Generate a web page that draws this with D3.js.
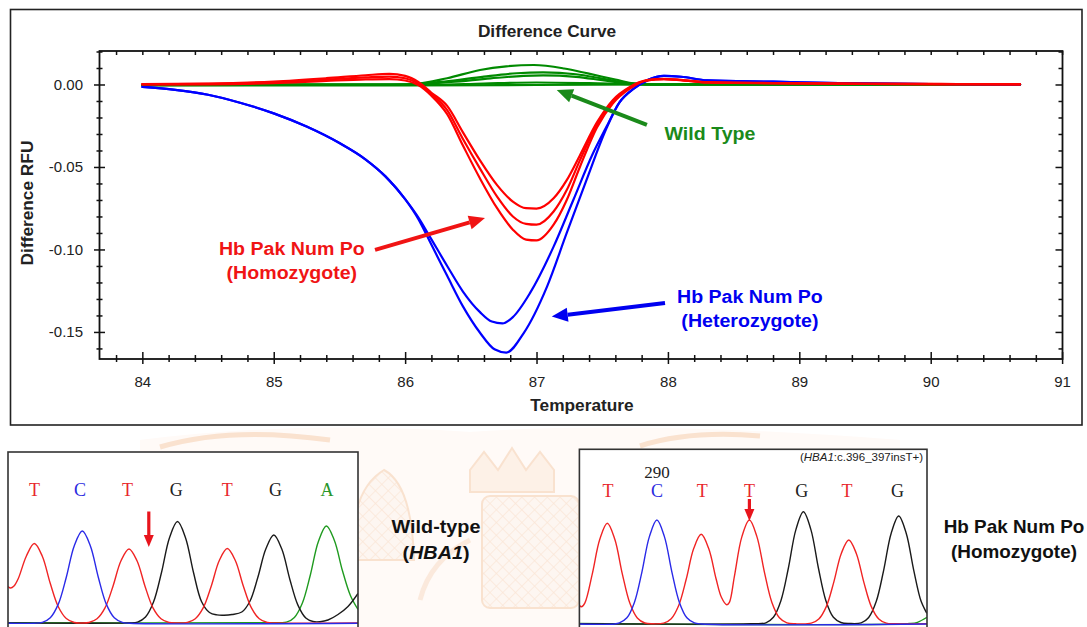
<!DOCTYPE html>
<html>
<head>
<meta charset="utf-8">
<script src="https://cdn.jsdelivr.net/npm/d3@7"></script>
<style>
  html, body { margin: 0; padding: 0; background: #fff; }
  svg { display: block; }
</style>
</head>
<body>
<svg id="fig" width="1087" height="627"></svg>
<script>
// ---------- Difference curve data (temperature °C, difference RFU) ----------
const tempTicks = [84, 85, 86, 87, 88, 89, 90, 91];
const rfuTicks = [0, -0.05, -0.10, -0.15];

// Wild type samples
const wildType1 = [[84,0],[85.9,0],[86.07,0.0003],[86.32,0.0038],[86.57,0.0088],[86.77,0.011],[86.98,0.0118],[87.21,0.0097],[87.39,0.0067],[87.6,0.003],[87.75,0.0005],[87.9,0],[90.68,0]];
const wildType2 = [[84,0],[86.0,0],[86.3,0.0018],[86.6,0.0048],[86.85,0.0068],[87.05,0.0073],[87.3,0.0062],[87.5,0.0036],[87.7,0.0008],[87.9,0],[90.68,0]];
const wildType3 = [[84,0],[86.05,0],[86.35,0.0015],[86.65,0.0037],[86.9,0.0052],[87.05,0.0055],[87.3,0.0046],[87.5,0.0026],[87.7,0.0006],[87.9,0],[90.68,0]];
const wildType4 = [[84,-0.0004],[86.2,-0.0002],[86.6,0.0006],[87.0,0.0012],[87.4,0.0008],[87.8,0.0001],[90.68,0]];
const wildType5 = [[84,-0.0006],[86,-0.0005],[87,-0.0003],[88,0],[90.68,0]];

// Hb Pak Num Po heterozygotes
const heteroStart = [[84,-0.0015],[84.25,-0.0033],[84.5,-0.0062],[84.75,-0.0112],[85,-0.0175],[85.25,-0.0255],[85.5,-0.0355],[85.7,-0.0455],[85.85,-0.0557],[86.0,-0.0695]];
const heteroTail = [[87.63,-0.011],[87.74,-0.0025],[87.85,0.0028],[87.97,0.0052],[88.1,0.0047],[88.3,0.0025],[88.8,0.0017],[89.3,0.0008],[90,0.0003],[90.68,0]];
const hetero1Dip = [[86.1,-0.0805],[86.19,-0.0925],[86.32,-0.1100],[86.44,-0.1255],[86.57,-0.1380],[86.66,-0.1437],[86.74,-0.1448],[86.82,-0.1410],[86.95,-0.1265],[87.13,-0.0983],[87.28,-0.070],[87.43,-0.0417],[87.53,-0.026]];
const hetero2Dip = [[86.1,-0.0815],[86.19,-0.0955],[86.32,-0.1160],[86.44,-0.1345],[86.57,-0.1505],[86.68,-0.1605],[86.77,-0.1625],[86.9,-0.151],[87.08,-0.1225],[87.23,-0.090],[87.38,-0.058],[87.53,-0.027]];

// Hb Pak Num Po homozygotes
const homo1 = [[84,0.0003],[84.5,0.0006],[85,0.0018],[85.4,0.0038],[85.7,0.0056],[85.88,0.0064],[86.0,0.0052],[86.1,0.0015],[86.2,-0.005],[86.32,-0.013],[86.44,-0.029],[86.57,-0.046],[86.7,-0.061],[86.82,-0.071],[86.92,-0.075],[87.0,-0.0752],[87.13,-0.069],[87.23,-0.058],[87.33,-0.043],[87.46,-0.023],[87.58,-0.0095],[87.71,-0.0015],[87.84,0.0026],[87.97,0.0034],[88.1,0.0028],[88.3,0.0014],[88.8,0.0009],[89.5,0.0005],[90.2,0.0003],[90.68,0.0002]];
const homo2 = [[84,0.0001],[84.5,0.0004],[85,0.0013],[85.4,0.003],[85.7,0.0043],[85.88,0.0048],[86.0,0.0038],[86.1,0.0006],[86.2,-0.0058],[86.32,-0.0155],[86.44,-0.033],[86.57,-0.051],[86.7,-0.068],[86.82,-0.08],[86.92,-0.0845],[87.0,-0.085],[87.13,-0.077],[87.23,-0.064],[87.33,-0.046],[87.46,-0.024],[87.58,-0.0105],[87.71,-0.002],[87.84,0.0025],[87.97,0.0033],[88.1,0.0027],[88.3,0.0013],[88.8,0.0008],[89.5,0.0004],[90.2,0.0002],[90.68,0.0001]];
const homo3 = [[84,0],[84.5,0.0001],[85,0.0008],[85.4,0.0022],[85.7,0.0031],[85.88,0.0033],[86.0,0.0024],[86.1,-0.0004],[86.2,-0.0068],[86.32,-0.018],[86.44,-0.037],[86.57,-0.057],[86.7,-0.075],[86.82,-0.088],[86.92,-0.094],[87.0,-0.0945],[87.13,-0.085],[87.23,-0.07],[87.33,-0.05],[87.46,-0.026],[87.58,-0.0115],[87.71,-0.0025],[87.84,0.0024],[87.97,0.0032],[88.1,0.0026],[88.3,0.0012],[88.8,0.0007],[89.5,0.0003],[90.2,0.0001],[90.68,0]];

// ---------- Sequencing traces (scan position, signal) ----------
const wtCalls = ["T","C","T","G","T","G","A"];
const wtCallPos = [26.4, 71.9, 119.4, 168.3, 219.3, 267.5, 319.1];
const wtRed = [[0,37],[2.5,35.5],[6,37.5],[10.3,45],[18.3,67.3],[26.3,80],[34.3,67.3],[42.3,40],[50.3,16.8],[58.3,5],[66.3,1],[73,0.5],[81,1],[89,4.7],[97,15.6],[105,37.3],[113,62.7],[121,74.5],[129,62.7],[137,37.3],[145,15.6],[153,4.7],[161,1],[170,0.5],[179.3,1],[187.3,4.7],[195.3,15.8],[203.3,37.5],[211.3,63],[219.3,75],[227.3,63],[235.3,37.5],[243.3,15.8],[251.3,4.7],[259.3,1],[268,0.5],[350,0.5]];
const wtBlue = [[0,0.3],[26,0.3],[34.3,1.2],[42.3,5.8],[50.3,19.4],[58.3,46.3],[66.3,77.8],[74.3,92.5],[82.3,77.8],[90.3,46.3],[98.3,19.4],[106.3,5.8],[114.3,1.2],[122,0.3],[350,0.3]];
const wtBlack = [[0,0.6],[120,0.6],[129.5,1.3],[137.5,6.4],[145.5,21.4],[153.5,51],[161.5,85.8],[169.5,102],[177.5,85.8],[185.5,51],[193.5,22],[201.5,11],[209,8.6],[216,8.3],[224,9],[233.8,11.5],[241.8,22],[249.8,46],[257.8,74.4],[265.8,88.5],[273.8,74.4],[281.8,44.3],[289.8,18.6],[297.8,5.5],[305,2],[312,1.8],[320,3.5],[330,9],[340,17],[350,30]];
const wtGreen = [[0,0.8],[270,0.8],[278.4,1.3],[286.4,6.1],[294.4,20.5],[302.4,48.8],[310.4,82],[318.4,97.5],[326.4,83],[334.4,53],[342.4,28],[350,14]];
const wtMarkPos = 140.8;

const mutCalls = ["T","C","T","T","G","T","G"];
const mutCallPos = [28.6, 77.5, 122.8, 170, 222.3, 267.6, 318.2];
const mutRed = [[0,19],[2,17.5],[5.4,21.2],[12.9,50.5],[20.4,85],[27.9,101],[35.4,85],[42.9,50.5],[50.4,21.2],[57.9,6.3],[65.4,1.3],[73,0.5],[84.3,1.2],[91.8,5.6],[99.3,18.9],[106.8,45],[114.3,75.7],[121.8,90],[129.3,75.7],[136.8,45],[142,27],[147.3,19.5],[150,22],[155,48],[162.5,87.7],[170,104.3],[177.5,87.7],[185,52.2],[192.5,21.9],[200,6.5],[207.5,1.4],[216,0.5],[231.9,1.1],[239.4,5.3],[246.9,17.7],[254.4,42.2],[261.9,70.9],[269.4,84.3],[276.9,70.9],[284.4,42.2],[291.9,17.7],[299.4,5.3],[306.9,1.1],[315,0.5],[347.6,0.5]];
const mutBlue = [[0,0.3],[35,0.3],[40,1.4],[47.5,6.5],[55,21.9],[62.5,52.2],[70,87.7],[77.5,104.3],[85,87.7],[92.5,52.2],[100,21.9],[107.5,6.5],[115,1.4],[122,0.3],[347.6,0.3]];
const mutBlack = [[0,0.6],[172,0.6],[186.5,1.5],[194,7],[201.5,23.6],[209,56.3],[216.5,94.7],[224,112.6],[231.5,94.7],[239,56.3],[246.5,23.6],[254,7],[261.5,1.8],[270,0.8],[281.8,1.4],[289.3,6.8],[296.8,22.7],[304.3,54.2],[311.8,91.1],[319.3,108.3],[326.8,91.1],[334.3,54.2],[341.8,22.7],[347.6,11]];
const mutGreen = [[0,0.8],[330,0.8],[338,2],[347.6,7]];
const mutMarkPos = 170;

// ---------- drawing ----------
const svg = d3.select("#fig");
const SANS = "'Liberation Sans', Arial, Helvetica, sans-serif";
const SERIF = "'Liberation Serif', 'Times New Roman', serif";
const C_RED = "#ff0000", C_BLUE = "#0000ff", C_GREEN = "#008a00";

function label(g, txt, px, py, opt) {
  const t = g.append("text")
    .attr("transform", `translate(${px},${py}) scale(${opt.sx || 1},1)`)
    .attr("text-anchor", opt.anchor || "middle")
    .attr("font-family", opt.family || SANS)
    .attr("font-size", opt.size)
    .attr("font-weight", opt.weight || "normal")
    .attr("fill", opt.fill || "#222");
  if (Array.isArray(txt)) {
    txt.forEach(p => t.append("tspan").attr("font-style", p.italic ? "italic" : null).text(p.t));
  } else t.text(txt);
  return t;
}

// faint emblem watermark in the page background
const defs = svg.append("defs");
const net = defs.append("pattern").attr("id", "net").attr("width", 9).attr("height", 9)
  .attr("patternUnits", "userSpaceOnUse").attr("patternTransform", "rotate(45)");
net.append("rect").attr("width", 9).attr("height", 9).attr("fill", "#fdf1e8");
net.append("path").attr("d", "M0,0H9M0,0V9").attr("stroke", "#f8d6bd").attr("stroke-width", 1.4);
const wm = svg.append("g").attr("opacity", 0.6);
wm.append("path").attr("d", "M140,440 Q300,420 470,432 Q640,420 900,440 L900,627 L140,627 Z").attr("fill", "#fff7f2");
wm.append("rect").attr("x", 482).attr("y", 496).attr("width", 97).attr("height", 112).attr("rx", 8)
  .attr("fill", "url(#net)").attr("stroke", "#f6cfb0").attr("stroke-width", 2);
wm.append("path").attr("d", "M352,560 Q350,490 384,470 Q412,485 414,560 Z")
  .attr("fill", "url(#net)").attr("stroke", "#f6cfb0").attr("stroke-width", 2);
wm.append("path").attr("d", "M470,492 L470,470 L484,452 L498,470 L512,448 L526,470 L540,452 L554,470 L554,492 Z")
  .attr("fill", "#fde8d8").attr("stroke", "#f6cfb0").attr("stroke-width", 2);
wm.append("path").attr("d", "M420,600 Q430,560 470,540").attr("fill", "none").attr("stroke", "#f9dcc6").attr("stroke-width", 5);
wm.append("path").attr("d", "M160,447 Q230,426 330,440").attr("fill", "none").attr("stroke", "#f7cfb0").attr("stroke-width", 5);
wm.append("path").attr("d", "M640,446 Q690,430 760,436").attr("fill", "none").attr("stroke", "#f7cfb0").attr("stroke-width", 5);

// chart frame
svg.append("rect").attr("x", 10.5).attr("y", 9.5).attr("width", 1071.5).attr("height", 415.5)
  .attr("fill", "#fff").attr("stroke", "#222").attr("stroke-width", 1.6);

const P = { left: 99.5, right: 1062.5, top: 51, bottom: 359 };
const x = d3.scaleLinear().domain([83.674, 91.003]).range([P.left, P.right]);
const y = d3.scaleLinear().domain([-0.1664, 0.0203]).range([P.bottom, P.top]);

const minorT = d3.range(83.8, 91.001, 0.2).filter(v => Math.abs(v - Math.round(v)) > 0.05);
const allT = d3.range(83.8, 91.001, 0.2);
const minorR = d3.range(0.02, -0.1665, -0.01).filter(v => Math.abs(v * 20 - Math.round(v * 20)) > 0.05);

const axes = svg.append("g").attr("font-family", SANS);
const tickFmt = d => d.toFixed(2);

// bottom axis: major ticks with labels, ticks crossing the axis line
const gx = axes.append("g").attr("transform", `translate(0,${P.bottom})`)
  .call(d3.axisBottom(x).tickValues(tempTicks).tickSizeInner(5).tickSizeOuter(0).tickPadding(12).tickFormat(d3.format("d")));
gx.selectAll(".tick line").attr("y1", -7).attr("y2", 5);
const gxm = axes.append("g").attr("transform", `translate(0,${P.bottom})`)
  .call(d3.axisBottom(x).tickValues(minorT).tickSizeInner(3).tickSizeOuter(0).tickFormat(""));
gxm.selectAll(".tick line").attr("y1", -4);

// top axis: inward ticks
axes.append("g").attr("transform", `translate(0,${P.top})`)
  .call(d3.axisTop(x).tickValues(allT).tickSizeInner(-4).tickSizeOuter(0).tickFormat(""));

// left axis: major ticks with labels, crossing ticks
const gy = axes.append("g").attr("transform", `translate(${P.left},0)`)
  .call(d3.axisLeft(y).tickValues(rfuTicks).tickSizeInner(5.5).tickSizeOuter(0).tickPadding(11).tickFormat(tickFmt));
gy.selectAll(".tick line").attr("x1", 5.5);
const gym = axes.append("g").attr("transform", `translate(${P.left},0)`)
  .call(d3.axisLeft(y).tickValues(minorR).tickSizeInner(3).tickSizeOuter(0).tickFormat(""));
gym.selectAll(".tick line").attr("x1", 3);

// right axis: inward ticks
axes.append("g").attr("transform", `translate(${P.right},0)`)
  .call(d3.axisRight(y).tickValues(rfuTicks).tickSizeInner(-7).tickSizeOuter(0).tickFormat(""));
axes.append("g").attr("transform", `translate(${P.right},0)`)
  .call(d3.axisRight(y).tickValues(minorR).tickSizeInner(-4).tickSizeOuter(0).tickFormat(""));

axes.selectAll(".domain").remove();
axes.selectAll(".tick line").attr("stroke", "#111").attr("stroke-width", 1.5);
axes.selectAll(".tick text").attr("font-size", 15).attr("fill", "#222");

svg.append("rect").attr("x", P.left).attr("y", P.top).attr("width", P.right - P.left).attr("height", P.bottom - P.top)
  .attr("fill", "none").attr("stroke", "#111").attr("stroke-width", 1.8);

// titles
label(svg, "Difference Curve", 547, 37, { size: 16, weight: "bold", sx: 1.08 });
label(svg, "Temperature", 582, 411, { size: 16, weight: "bold", sx: 1.08 });
svg.append("text").attr("transform", "translate(33,203) rotate(-90) scale(1.08,1)")
  .attr("text-anchor", "middle").attr("font-family", SANS).attr("font-size", 16)
  .attr("font-weight", "bold").attr("fill", "#222").text("Difference RFU");

// curves
svg.append("clipPath").attr("id", "plotClip").append("rect")
  .attr("x", P.left).attr("y", P.top).attr("width", P.right - P.left).attr("height", P.bottom - P.top);
const curves = svg.append("g").attr("clip-path", "url(#plotClip)").attr("fill", "none")
  .attr("stroke-width", 2.2).attr("stroke-linejoin", "round").attr("stroke-linecap", "round");
const line = d3.line().x(d => x(d[0])).y(d => y(d[1])).curve(d3.curveMonotoneX);

[wildType5, wildType4, wildType3, wildType2, wildType1].forEach(s =>
  curves.append("path").attr("d", line(s)).attr("stroke", C_GREEN));
[heteroStart.concat(hetero1Dip, heteroTail), heteroStart.concat(hetero2Dip, heteroTail)].forEach(s =>
  curves.append("path").attr("d", line(s)).attr("stroke", C_BLUE));
[homo1, homo2, homo3].forEach(s =>
  curves.append("path").attr("d", line(s)).attr("stroke", C_RED));

// annotation arrows (tail -> tip in data units)
function arrow(g, tail, tip, color, w, headLen, headHalf) {
  const x0 = x(tail[0]), y0 = y(tail[1]), x1 = x(tip[0]), y1 = y(tip[1]);
  const a = Math.atan2(y1 - y0, x1 - x0);
  const bx = x1 - headLen * Math.cos(a), by = y1 - headLen * Math.sin(a);
  g.append("line").attr("x1", x0).attr("y1", y0).attr("x2", bx).attr("y2", by)
    .attr("stroke", color).attr("stroke-width", w);
  const px = -Math.sin(a) * headHalf, py = Math.cos(a) * headHalf;
  g.append("path").attr("d", `M${x1},${y1}L${bx + px},${by + py}L${bx - px},${by - py}Z`).attr("fill", color);
}
const ann = svg.append("g");
arrow(ann, [87.84, -0.0245], [87.154, -0.0033], "#1a8a1a", 4, 16, 7);
arrow(ann, [85.771, -0.1003], [86.608, -0.0809], "#f01414", 4, 16, 7);
arrow(ann, [87.978, -0.1324], [87.116, -0.1407], "#0000f0", 4, 16, 7);

label(ann, "Wild Type", x(88.32), y(-0.0336), { size: 17.5, weight: "bold", fill: "#1a8a1a", sx: 1.12 });
label(ann, "Hb Pak Num Po", x(85.138), y(-0.1033), { size: 17.5, weight: "bold", fill: "#f01414", sx: 1.12 });
label(ann, "(Homozygote)", x(85.138), y(-0.1178), { size: 17.5, weight: "bold", fill: "#f01414", sx: 1.12 });
label(ann, "Hb Pak Num Po", x(88.624), y(-0.1324), { size: 17.5, weight: "bold", fill: "#0000f0", sx: 1.12 });
label(ann, "(Heterozygote)", x(88.624), y(-0.1469), { size: 17.5, weight: "bold", fill: "#0000f0", sx: 1.12 });

// ---------- chromatogram panels ----------
function panel(cfg) {
  const g = svg.append("g");
  const xs = d3.scaleLinear().domain([0, cfg.span]).range([cfg.x0, cfg.x1]);
  const ys = d3.scaleLinear().domain([0, 100]).range([cfg.base, cfg.base - 100]);
  const id = "clip" + cfg.id;
  svg.append("clipPath").attr("id", id).append("rect")
    .attr("x", cfg.x0).attr("y", cfg.top).attr("width", cfg.x1 - cfg.x0).attr("height", 640 - cfg.top);
  g.append("rect").attr("x", cfg.x0).attr("y", cfg.top).attr("width", cfg.x1 - cfg.x0).attr("height", 660 - cfg.top)
    .attr("fill", "#fff");
  const tr = g.append("g").attr("clip-path", `url(#${id})`).attr("fill", "none").attr("stroke-width", 1.4);
  const tl = d3.line().x(d => xs(d[0])).y(d => ys(d[1])).curve(d3.curveCatmullRom.alpha(0.5));
  [[cfg.green, "#1f9a1f"], [cfg.black, "#1a1a1a"], [cfg.red, "#f02424"], [cfg.blue, "#2a2ae8"]].forEach(([s, c]) =>
    tr.append("path").attr("d", tl(s)).attr("stroke", c));
  g.append("rect").attr("x", cfg.x0).attr("y", cfg.top).attr("width", cfg.x1 - cfg.x0).attr("height", 660 - cfg.top)
    .attr("fill", "none").attr("stroke", "#333").attr("stroke-width", 1.6);
  const callColor = { T: "#e8262b", C: "#2b2bdf", G: "#222", A: "#2a962a" };
  cfg.calls.forEach((b, i) => label(g, b, xs(cfg.callPos[i]), cfg.callY, { size: 18, family: SERIF, fill: callColor[b] }));
  // mutation marker arrow
  const mx = xs(cfg.markPos);
  g.append("line").attr("x1", mx).attr("x2", mx).attr("y1", cfg.markTop).attr("y2", cfg.markTip - 10)
    .attr("stroke", "#e8141c").attr("stroke-width", 3.2);
  g.append("path").attr("d", `M${mx},${cfg.markTip}L${mx - 5},${cfg.markTip - 12}L${mx + 5},${cfg.markTip - 12}Z`).attr("fill", "#e8141c");
  return { g, xs };
}

panel({ id: "wt", x0: 8, x1: 358, span: 350, top: 452, base: 623.5, callY: 496,
  red: wtRed, blue: wtBlue, black: wtBlack, green: wtGreen,
  calls: wtCalls, callPos: wtCallPos, markPos: wtMarkPos, markTop: 511.5, markTip: 547 });

const mp = panel({ id: "mut", x0: 579.4, x1: 927, span: 347.6, top: 449.3, base: 624.3, callY: 497,
  red: mutRed, blue: mutBlue, black: mutBlack, green: mutGreen,
  calls: mutCalls, callPos: mutCallPos, markPos: mutMarkPos, markTop: 499, markTip: 521 });
label(mp.g, "290", mp.xs(77.5), 477.5, { size: 17, family: SERIF, fill: "#222" });
label(mp.g, [{ t: "(" }, { t: "HBA1", italic: true }, { t: ":c.396_397insT+)" }], 923, 460.5,
  { size: 11.5, anchor: "end", fill: "#222" });

// panel captions
label(svg, "Wild-type", 436, 533, { size: 18, weight: "bold", fill: "#111", sx: 1.1 });
label(svg, [{ t: "(" }, { t: "HBA1", italic: true }, { t: ")" }], 436, 559, { size: 18, weight: "bold", fill: "#111", sx: 1.1 });
label(svg, "Hb Pak Num Po", 1014, 533, { size: 18, weight: "bold", fill: "#111", sx: 1.05 });
label(svg, "(Homozygote)", 1014, 558, { size: 18, weight: "bold", fill: "#111", sx: 1.05 });
</script>
</body>
</html>
